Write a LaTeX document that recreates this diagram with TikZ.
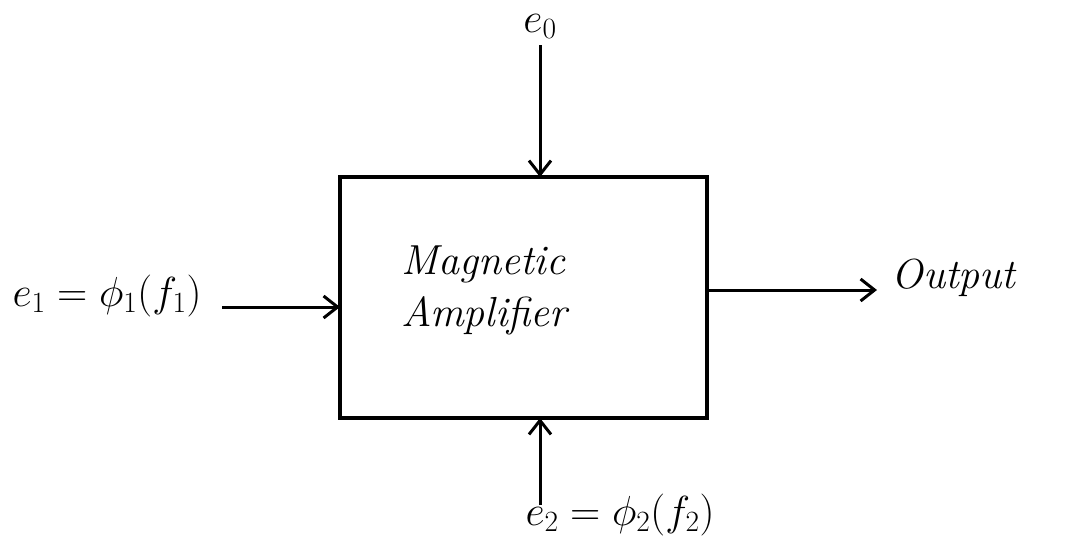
\documentclass[tikz,border=0pt]{standalone}
\usepackage{fix-cm}
\usetikzlibrary{arrows.meta}
\begin{document}
\begin{tikzpicture}[x=1pt,y=-1pt,
  conn/.style={line width=3pt,-{Straight Barb[length=14pt,width=22pt,line width=3pt]}},
  lbl/.style={font=\fontsize{42}{48}\selectfont\itshape},
  blk/.style={draw,line width=3.6pt}]
\useasboundingbox (0,0) rectangle (1071,550);
\draw[blk] (340,177) rectangle (707,418);
\node[lbl,align=left,anchor=west] (txt) at (398,290) {Magnetic\\[4pt]Amplifier};
\coordinate (btop) at (540,177);
\coordinate (bbot) at (540,418);
\coordinate (bleft) at (340,307);
\coordinate (bright) at (707,290);
\node[lbl,inner sep=0pt,anchor=base] (e0) at (540,32) {$e_0$};
\node[lbl,anchor=east] (e1) at (205,296) {$e_1=\phi_1(f_1)$};
\node[lbl,anchor=north west] (e2) at (522,490) {$e_2=\phi_2(f_2)$};
\node[lbl,anchor=west] (out) at (888,278) {Output};
\coordinate (e1r) at (222,307);
\coordinate (outl) at (877,290);
\coordinate (e0b) at (540,45);
\coordinate (e2t) at (540,505);
\draw[conn] (e0b) -- (btop);
\draw[conn] (e1r) -- (bleft);
\draw[conn] (bright) -- (outl);
\draw[conn] (e2t) -- (bbot);
\end{tikzpicture}
\end{document}
